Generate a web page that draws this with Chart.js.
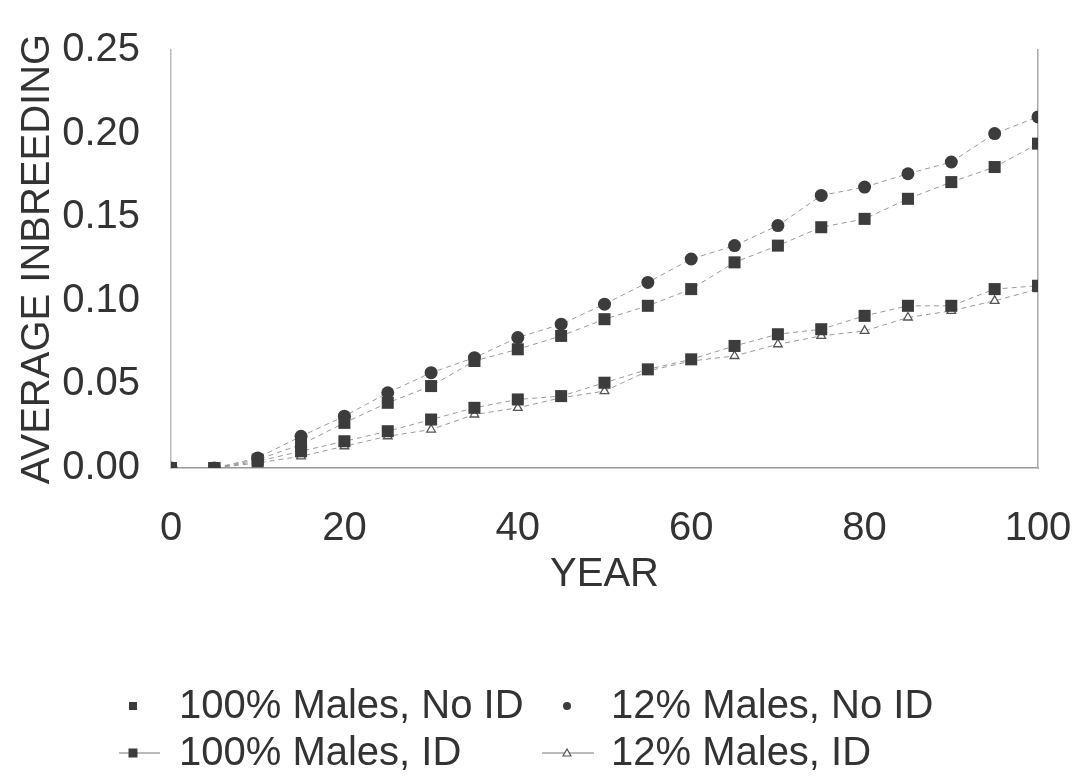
<!DOCTYPE html>
<html><head><meta charset="utf-8">
<script src="https://cdn.jsdelivr.net/npm/chart.js@4/dist/chart.umd.min.js"></script>
<style>html,body{margin:0;padding:0;background:#fff;} canvas{display:block;}</style>
</head><body>
<canvas id="c" width="1073" height="780"></canvas>
<script>
// ---- data ----
const years = [0,5,10,15,20,25,30,35,40,45,50,55,60,65,70,75,80,85,90,95,100];
const males100NoID = [0,0,0.005,0.014,0.027,0.039,0.049,0.064,0.071,0.079,0.089,0.097,0.107,0.123,0.133,0.144,0.149,0.161,0.171,0.180,0.194];
const males12NoID  = [0,0,0.006,0.019,0.031,0.045,0.057,0.066,0.078,0.086,0.098,0.111,0.125,0.133,0.145,0.163,0.168,0.176,0.183,0.200,0.210];
const males100ID   = [0,0,0.004,0.010,0.016,0.022,0.029,0.036,0.041,0.043,0.051,0.059,0.065,0.073,0.080,0.083,0.091,0.097,0.097,0.107,0.109];
const males12ID    = [0,0,0.003,0.007,0.013,0.019,0.023,0.032,0.036,0.042,0.046,0.058,0.064,0.067,0.074,0.079,0.082,0.090,0.094,0.100,0.107];
const seriesLabels = ['100% Males, No ID','12% Males, No ID','100% Males, ID','12% Males, ID'];
const xTickValues = [0,20,40,60,80,100];
const yTickValues = [0,0.05,0.10,0.15,0.20,0.25];
const xTitle = 'YEAR';
const yTitle = 'AVERAGE INBREEDING';

const pts = arr => years.map((x,i)=>({x:x,y:arr[i]}));
const TXT = '#333333';
const MARK = '#3c3c3c';
const LINE = '#9a9a9a';

const legendPlugin = {
  id:'gridLegend',
  afterDraw(chart){
    const ctx = chart.ctx;
    const slots = [[133,179,707],[567,611,707],[133,179,754],[567,611,754]];
    ctx.save();
    chart.data.datasets.forEach((ds,i)=>{
      const [mx,tx,y] = slots[i];
      const my = y - 1;
      ctx.strokeStyle = '#777'; ctx.lineWidth = 1.2;
      if(i===2){ ctx.beginPath(); ctx.moveTo(119,my); ctx.lineTo(160,my); ctx.stroke(); }
      if(i===3){ ctx.beginPath(); ctx.moveTo(542,my); ctx.lineTo(594,my); ctx.stroke(); }
      ctx.fillStyle = MARK;
      if(i===0){ ctx.fillRect(mx-4,my-4,8,8); }
      if(i===1){ ctx.beginPath(); ctx.arc(mx,my,4,0,Math.PI*2); ctx.fill(); }
      if(i===2){ ctx.fillRect(mx-4.5,my-4.5,9,9); }
      if(i===3){ ctx.fillStyle='#fff'; ctx.strokeStyle='#555'; ctx.beginPath(); ctx.moveTo(mx,my-4); ctx.lineTo(mx+4,my+3); ctx.lineTo(mx-4,my+3); ctx.closePath(); ctx.fill(); ctx.stroke(); }
      ctx.fillStyle = TXT;
      ctx.font = '40px "Liberation Sans", Arial, sans-serif';
      ctx.textAlign = 'left'; ctx.textBaseline = 'middle';
      ctx.fillText(ds.label, tx, y);
    });
    ctx.restore();
  }
};

const lineCommon = {borderColor:LINE, borderWidth:1, borderDash:[5,4], showLine:true, fill:false, tension:0};

new Chart(document.getElementById('c'), {
  type:'scatter',
  data:{datasets:[
    Object.assign({label:seriesLabels[0], data:pts(males100NoID), pointStyle:'rect', pointRadius:8.5, pointBackgroundColor:MARK, pointBorderColor:MARK, pointBorderWidth:0}, lineCommon),
    Object.assign({label:seriesLabels[1], data:pts(males12NoID), pointStyle:'circle', pointRadius:6.5, pointBackgroundColor:MARK, pointBorderColor:MARK, pointBorderWidth:0}, lineCommon),
    Object.assign({label:seriesLabels[2], data:pts(males100ID), pointStyle:'rect', pointRadius:8.5, pointBackgroundColor:MARK, pointBorderColor:MARK, pointBorderWidth:0}, lineCommon),
    Object.assign({label:seriesLabels[3], data:pts(males12ID), pointStyle:'triangle', pointRadius:5, pointBackgroundColor:'#ffffff', pointBorderColor:'#555', pointBorderWidth:1.3}, lineCommon)
  ]},
  options:{
    responsive:false, animation:false,
    layout:{padding:{left:0,right:35,top:50,bottom:172}},
    plugins:{legend:{display:false}, tooltip:{enabled:false}},
    scales:{
      x:{type:'linear', position:'bottom', min:0, max:100,
        afterBuildTicks:s=>{s.ticks = xTickValues.map(v=>({value:v}));},
        afterFit:s=>{s.height=140; s.paddingLeft=0; s.paddingRight=0;},
        grid:{display:false, drawTicks:false},
        border:{display:true, color:'#999', width:1.5},
        ticks:{color:TXT, padding:37, maxRotation:0, autoSkip:false,
          font:{family:'"Liberation Sans Narrow", "Arial Narrow", "Liberation Sans", Arial, sans-serif', size:40}},
        title:{display:true, text:xTitle, color:TXT, padding:{top:0,bottom:9},
          font:{family:'"Liberation Sans", Arial, sans-serif', size:40}}
      },
      y:{type:'linear', position:'left', min:0, max:0.25,
        afterBuildTicks:s=>{s.ticks = yTickValues.map(v=>({value:v}));},
        afterFit:s=>{s.width=171; s.paddingTop=0; s.paddingBottom=0;},
        grid:{display:false, drawTicks:false},
        border:{display:true, color:'#bbb', width:1.5},
        ticks:{color:TXT, padding:31, autoSkip:false, callback:v=>Number(v).toFixed(2),
          font:{family:'"Liberation Sans", Arial, sans-serif', size:40}},
        title:{display:true, text:yTitle, color:TXT, padding:{top:14,bottom:0},
          font:{family:'"Liberation Sans", Arial, sans-serif', size:40}}
      },
      y2:{type:'linear', position:'right', min:0, max:0.25,
        afterFit:s=>{s.width=0; s.paddingTop=0; s.paddingBottom=0;},
        grid:{display:false, drawTicks:false},
        border:{display:true, color:'#aaa', width:1.5},
        ticks:{display:false}
      }
    }
  },
  plugins:[legendPlugin]
});
</script>
</body></html>
